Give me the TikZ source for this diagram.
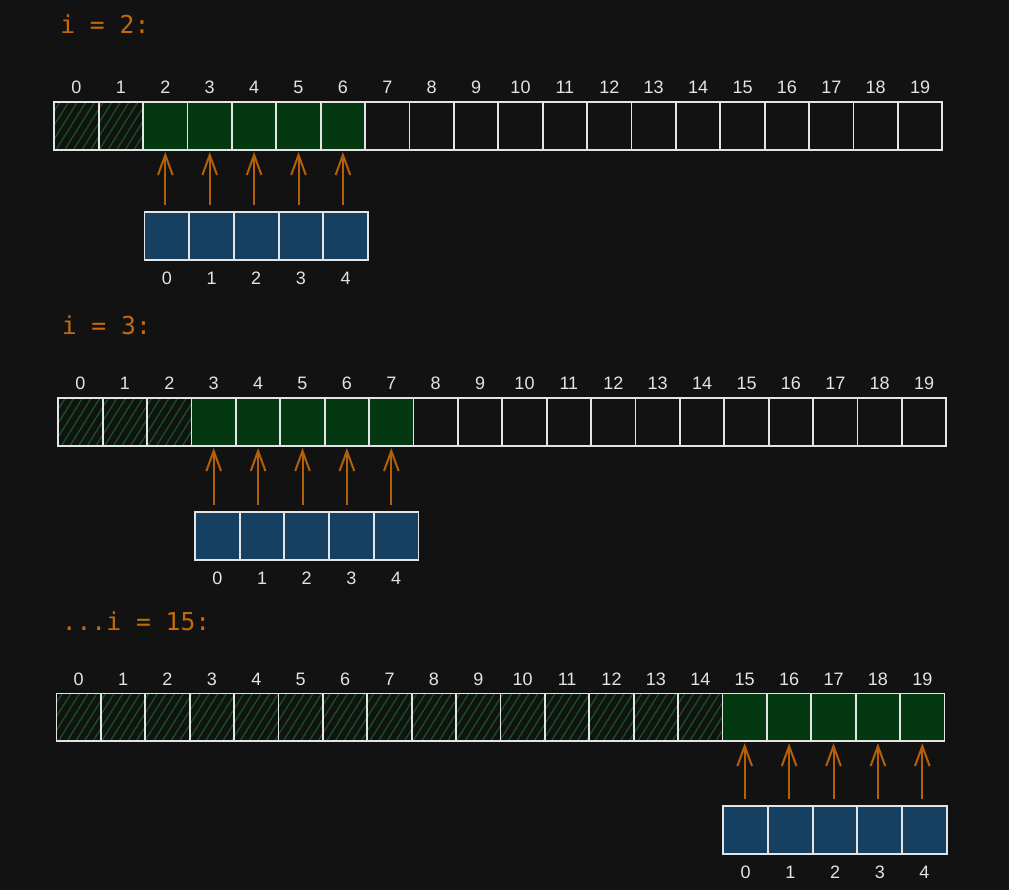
\documentclass[tikz,border=0pt]{standalone}
\usepackage{fontspec}
\setsansfont{Liberation Sans}
\setmonofont{DejaVu Sans Mono}
\usetikzlibrary{arrows.meta,patterns.meta}

\definecolor{bg}{RGB}{18,18,18}
\definecolor{edge}{RGB}{228,228,228}
\definecolor{win}{RGB}{4,56,16}
\definecolor{hatch}{RGB}{18,84,32}
\definecolor{pat}{RGB}{22,64,98}
\definecolor{ochre}{RGB}{196,106,12}
\definecolor{rust}{RGB}{180,96,10}

\begin{document}
\begin{tikzpicture}[x=0.75pt,y=0.75pt,yscale=-1,xscale=1,
    cell/.style={draw=edge,line width=1.4pt,minimum width=33.3pt,minimum height=35.8pt,inner sep=0pt,outer sep=0pt},
    done/.style={cell,pattern={Lines[angle=58,distance=5.5pt,line width=1pt]},pattern color=hatch},
    live/.style={cell,fill=win},
    probe/.style={cell,fill=pat,minimum width=33.5pt},
    idx/.style={text=edge,font=\sffamily\fontsize{13.5}{13.5}\selectfont,inner sep=0pt},
    title/.style={text=ochre,font=\ttfamily\fontsize{18.5}{18.5}\selectfont,anchor=base west,inner sep=0pt},
    ptr/.style={draw=rust,line width=1.5pt,shorten <=5.2pt,shorten >=1.5pt,-{Straight Barb[length=15pt,width=11pt]}}]
    %Shape: Rectangle [background]
    \fill[bg] (0,0) rectangle (1009,890);

    % Text Node
    \node[title] (t1) at (60,33) {i = 2:};
    % Text Node
    \node[title] (t2) at (61.5,334) {i = 3:};
    % Text Node
    \node[title] (t3) at (61.5,630) {...i = 15:};

    \foreach \r/\bx/\by/\ly/\sx/\sy/\my/\lo in {1/54.3/126.2/87/144.5/236.2/278/2, 2/58.3/422.2/383/195/536.2/578/3, 3/56.5/717.3/679/723.3/830/872/15}{
        %Shape: Array [big]
        \foreach \k in {0,...,19}{
            \ifnum\k<\lo \def\st{done}\else\ifnum\k<\numexpr\lo+5\relax \def\st{live}\else \def\st{cell}\fi\fi
            \node[\st] (a\r-\k) at ({\bx+22.2+44.4*\k},\by) {};
            % Text Node
            \node[idx] (n\r-\k) at ({\bx+22.2+44.4*\k},\ly) {\k};
        }
        %Shape: Array [window]
        \foreach \m in {0,...,4}{
            \pgfmathtruncatemacro\j{\lo+\m}
            \node[probe] (b\r-\m) at ({\sx+22.35+44.7*\m},\sy) {};
            % Text Node
            \node[idx] (m\r-\m) at ({\sx+22.35+44.7*\m},\my) {\m};
            \draw[ptr] (a\r-\j.south |- b\r-\m.north) -- (a\r-\j.south);
        }
    }
\end{tikzpicture}
\end{document}
